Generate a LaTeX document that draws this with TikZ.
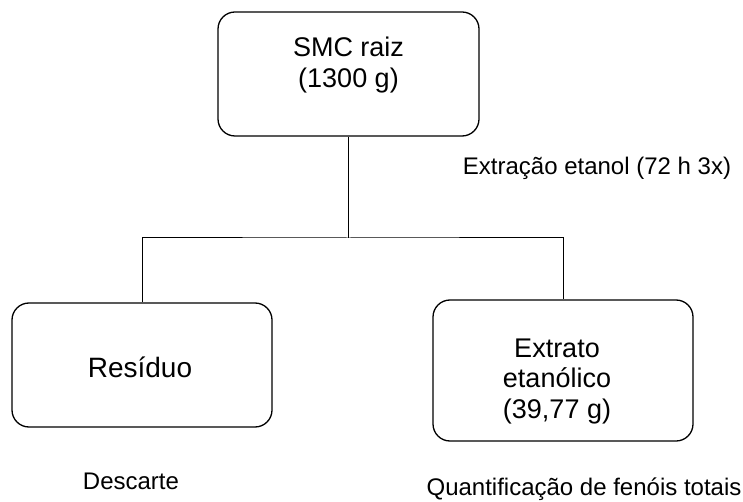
\documentclass[tikz,border=0pt]{standalone}
\usepackage{fontspec}
\setmainfont{Liberation Sans}
\begin{document}
\begin{tikzpicture}[x=1pt,y=-1pt,
  box/.style={draw=black,line width=1.3pt,rounded corners=17pt,inner sep=0pt},
  conn/.style={draw=black,line width=1pt},
  big/.style={font=\fontsize{27}{31}\selectfont,inner sep=0pt,anchor=base},
  small/.style={font=\fontsize{24}{28}\selectfont,inner sep=0pt,anchor=base}]
\useasboundingbox (0,0) rectangle (743,502);
\node[box,minimum width=261pt,minimum height=124pt] (top) at (348.5,74) {};
\node[box,minimum width=260pt,minimum height=124pt] (res) at (142,365) {};
\node[box,minimum width=260pt,minimum height=141pt] (ext) at (563,370.5) {};
\node[big] (t1) at (348.5,57) {SMC raiz};
\node[big] (t2) at (348.5,88) {(1300 g)};
\node[big,font=\fontsize{28}{32}\selectfont] (restxt) at (140,377) {Resíduo};
\node[big] (e1) at (557,357) {Extrato};
\node[big] (e2) at (557,387.5) {etanólico};
\node[big] (e3) at (557,418) {(39,77 g)};
\node[small] (extr) at (597,175) {Extração etanol (72 h 3x)};
\node[small] (desc) at (131,489) {Descarte};
\node[small] (quant) at (584,495) {Quantificação de fenóis totais};
\coordinate (j) at (348.5,238);
\draw[conn] (top.south) -- (j);
\draw[conn] (res.north) |- (j) -| (ext.north);
\end{tikzpicture}
\end{document}
